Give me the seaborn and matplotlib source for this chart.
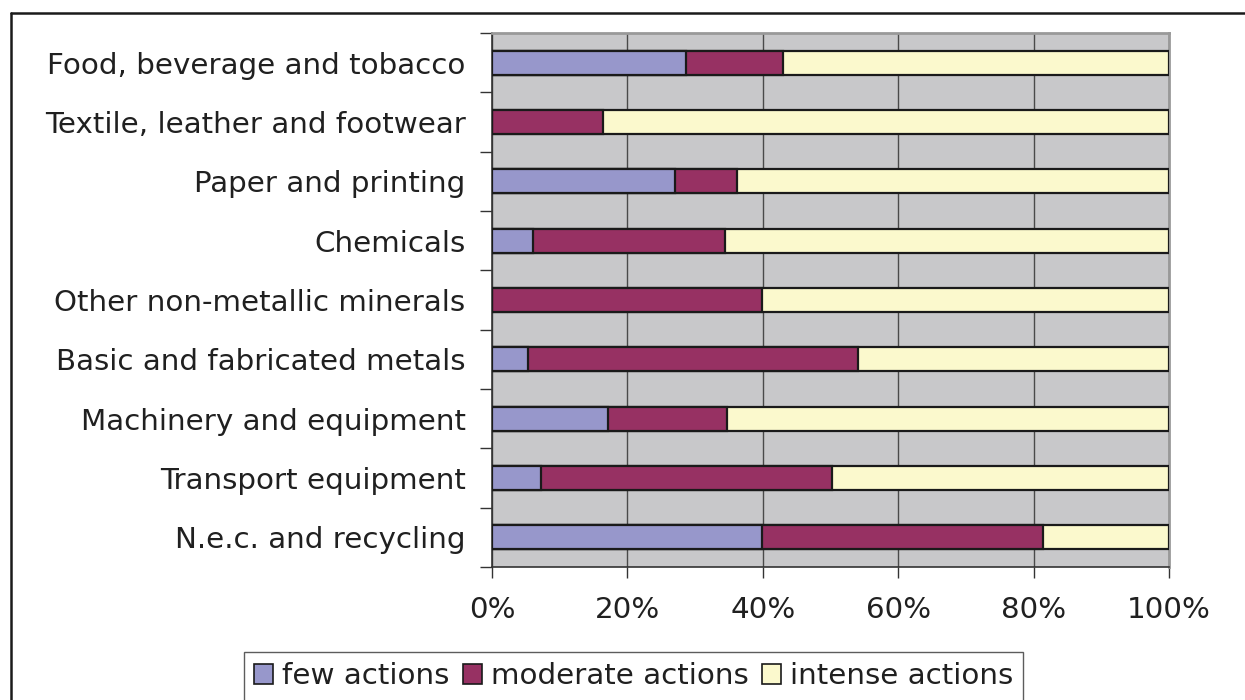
import numpy as np
import pandas as pd
import matplotlib
matplotlib.use("Agg")
import matplotlib.pyplot as plt
import seaborn as sns
from matplotlib.patches import Patch
from matplotlib.lines import Line2D
from matplotlib.ticker import FixedLocator, PercentFormatter

#_____1. DATA_____
sectors = ["Food, beverage and tobacco", "Textile, leather and footwear",
           "Paper and printing", "Chemicals", "Other non-metallic minerals",
           "Basic and fabricated metals", "Machinery and equipment",
           "Transport equipment", "N.e.c. and recycling"]
few = [28.7, 0.0, 27.0, 6.1, 0.0, 5.3, 17.1, 7.2, 39.9]
moderate = [14.3, 16.4, 9.2, 28.3, 39.9, 48.8, 17.6, 43.0, 41.5]
intense = [57.0, 83.6, 63.8, 65.6, 60.1, 45.9, 65.3, 49.8, 18.6]
series_names = ["few actions", "moderate actions", "intense actions"]
series_colors = ["#9797CB", "#973163", "#FBF9CD"]

df = pd.DataFrame({"sector": sectors, "few": few,
                   "moderate": moderate, "intense": intense})
df["c_few"] = df["few"]
df["c_mod"] = df["few"] + df["moderate"]
df["c_int"] = df["c_mod"] + df["intense"]

#_____2. STYLE_____
sns.set_style("white")
plt.rcParams["font.family"] = ["DejaVu Sans"]
FS = 21.2
TXT = "#202020"

fig = plt.figure(figsize=(12.45, 7.0), dpi=100)
ax = fig.add_axes([492 / 1245, 1 - 567 / 700, (1169 - 492) / 1245, (567 - 33) / 700])
ax.set_facecolor("#C8C8CA")

# stacked bars: draw cumulative totals from the longest to the shortest
for col, color in zip(["c_int", "c_mod", "c_few"], series_colors[::-1]):
    sns.barplot(data=df, x=col, y="sector", orient="h", color=color,
                edgecolor="#1a1a1a", linewidth=1.6, width=0.4,
                saturation=1, ax=ax, zorder=3)

#_____3. AXES_____
ax.set_xlim(0, 100)
ax.set_ylim(len(sectors) - 0.5, -0.5)
ax.set_xlabel("")
ax.set_ylabel("")
ax.xaxis.set_major_locator(FixedLocator([0, 20, 40, 60, 80, 100]))
ax.xaxis.set_major_formatter(PercentFormatter(decimals=0))
ax.grid(axis="x", color="#4a4a4a", linewidth=1.0, zorder=1)
ax.grid(axis="y", visible=False)
ax.set_axisbelow(True)

ax.yaxis.set_minor_locator(FixedLocator(np.arange(-0.5, len(sectors), 1.0)))
ax.tick_params(axis="y", which="major", left=True, length=0, pad=19,
               labelsize=FS, labelcolor=TXT)
ax.tick_params(axis="y", which="minor", left=True, length=9, width=1.0,
               color="#333333", direction="out")
ax.tick_params(axis="x", which="major", bottom=True, length=8, width=1.0,
               color="#333333", direction="out", pad=13, labelsize=FS, labelcolor=TXT)

for side in ["left", "bottom"]:
    ax.spines[side].set_color("#333333")
    ax.spines[side].set_linewidth(1.2)
for side in ["top", "right"]:
    ax.spines[side].set_color("#999999")
    ax.spines[side].set_linewidth(2.0)

#_____4. LEGEND_____
handles = [Patch(facecolor=c, edgecolor="#1a1a1a", linewidth=1.2) for c in series_colors]
leg = fig.legend(handles, series_names, loc="upper center", ncol=3,
                 bbox_to_anchor=(0.509, 1 - 652 / 700), frameon=True, fancybox=False,
                 fontsize=FS, handlelength=0.65, handleheight=0.65, handletextpad=0.3,
                 columnspacing=0.45, borderpad=0.35, borderaxespad=0)
for t in leg.get_texts():
    t.set_color(TXT)
leg.get_frame().set_edgecolor("#333333")
leg.get_frame().set_linewidth(1.0)

#_____5. OUTER FRAME_____
fig.add_artist(Line2D([11 / 1245, 1.0], [1 - 13 / 700, 1 - 13 / 700],
                      transform=fig.transFigure, color="#1a1a1a", linewidth=1.8))
fig.add_artist(Line2D([11 / 1245, 11 / 1245], [1 - 13 / 700, 0.0],
                      transform=fig.transFigure, color="#1a1a1a", linewidth=1.8))

fig.savefig("out.png", dpi=100, facecolor="white")
plt.close(fig)
